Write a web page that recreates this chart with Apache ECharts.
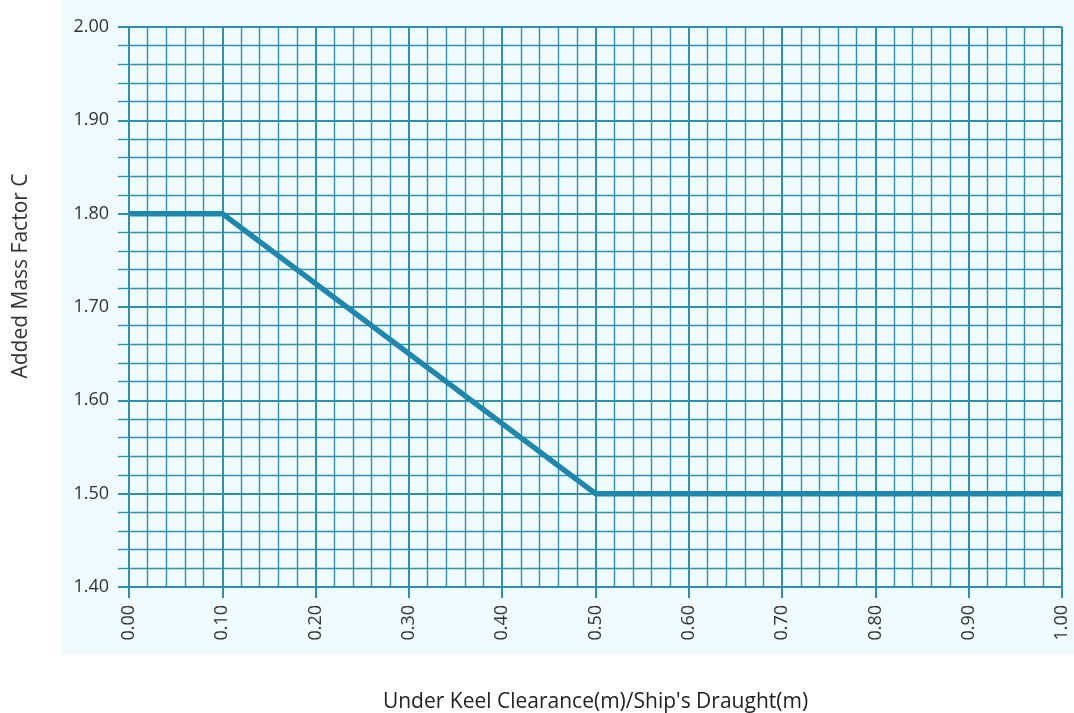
<!DOCTYPE html>
<html>
<head>
<meta charset="utf-8">
<title>Added Mass Factor C</title>
<script src="https://cdn.jsdelivr.net/npm/echarts@6/dist/echarts.min.js"></script>
<style>
body { margin: 0; background: #fff; }
#main { width: 1074px; height: 713px; }
</style>
</head>
<body>
<div id="main"></div>
<script type="text/javascript">
// UKC/draught ratio vs added mass factor
var ratio = [0.00, 0.10, 0.50, 1.00];
var factor = [1.80, 1.80, 1.50, 1.50];
var xName = "Under Keel Clearance(m)/Ship's Draught(m)";
var yName = 'Added Mass Factor C';

var points = [];
for (var i = 0; i < ratio.length; i++) {
	points.push([ratio[i], factor[i]]);
}

var gridColor = '#2f90a9';
var labelFont = '"Open Sans", sans-serif';
var myChart = echarts.init(document.getElementById('main'));

myChart.setOption({
	animation: false,
	backgroundColor: '#ffffff',
	graphic: [{
		type: 'rect',
		z: -10,
		shape: { x: 62, y: 0, width: 1012, height: 655 },
		style: { fill: '#effbfe' }
	}, {
		type: 'text',
		x: 21,
		y: 276,
		rotation: Math.PI / 2,
		style: {
			text: yName,
			fill: '#333',
			font: '21px "Open Sans", sans-serif',
			align: 'center',
			verticalAlign: 'middle'
		}
	}],
	grid: {
		left: 129,
		right: 12,
		top: 27,
		bottom: 126,
		containLabel: false,
		outerBoundsMode: 'none'
	},
	xAxis: {
		type: 'value',
		min: 0,
		max: 1,
		interval: 0.1,
		name: xName,
		nameLocation: 'middle',
		nameGap: 105,
		nameTextStyle: { color: '#222', fontSize: 21, fontFamily: labelFont },
		axisLine: { show: false },
		axisTick: { show: true, length: 11, lineStyle: { color: gridColor, width: 2 } },
		axisLabel: {
			rotate: 90,
			margin: 18,
			color: '#333',
			fontSize: 18,
			fontFamily: labelFont,
			formatter: function (v) { return v.toFixed(2); }
		},
		splitLine: { show: true, lineStyle: { color: gridColor, width: 2 } },
		minorTick: { show: false, splitNumber: 5 },
		minorSplitLine: { show: true, lineStyle: { color: gridColor, width: 1.4 } }
	},
	yAxis: {
		type: 'value',
		min: 1.4,
		max: 2.0,
		interval: 0.1,
		axisLine: { show: false },
		axisTick: { show: true, length: 11, lineStyle: { color: gridColor, width: 2 } },
		minorTick: { show: true, splitNumber: 5, length: 11, lineStyle: { color: gridColor, width: 1.4 } },
		axisLabel: {
			margin: 20,
			color: '#333',
			fontSize: 18,
			fontFamily: labelFont,
			formatter: function (v) { return v.toFixed(2); }
		},
		splitLine: { show: true, lineStyle: { color: gridColor, width: 2 } },
		minorSplitLine: { show: true, lineStyle: { color: gridColor, width: 1.4 } }
	},
	series: [{
		type: 'line',
		data: points,
		symbol: 'none',
		lineStyle: { color: '#1e87ad', width: 5.5 },
		z: 5
	}]
});
</script>
</body>
</html>
